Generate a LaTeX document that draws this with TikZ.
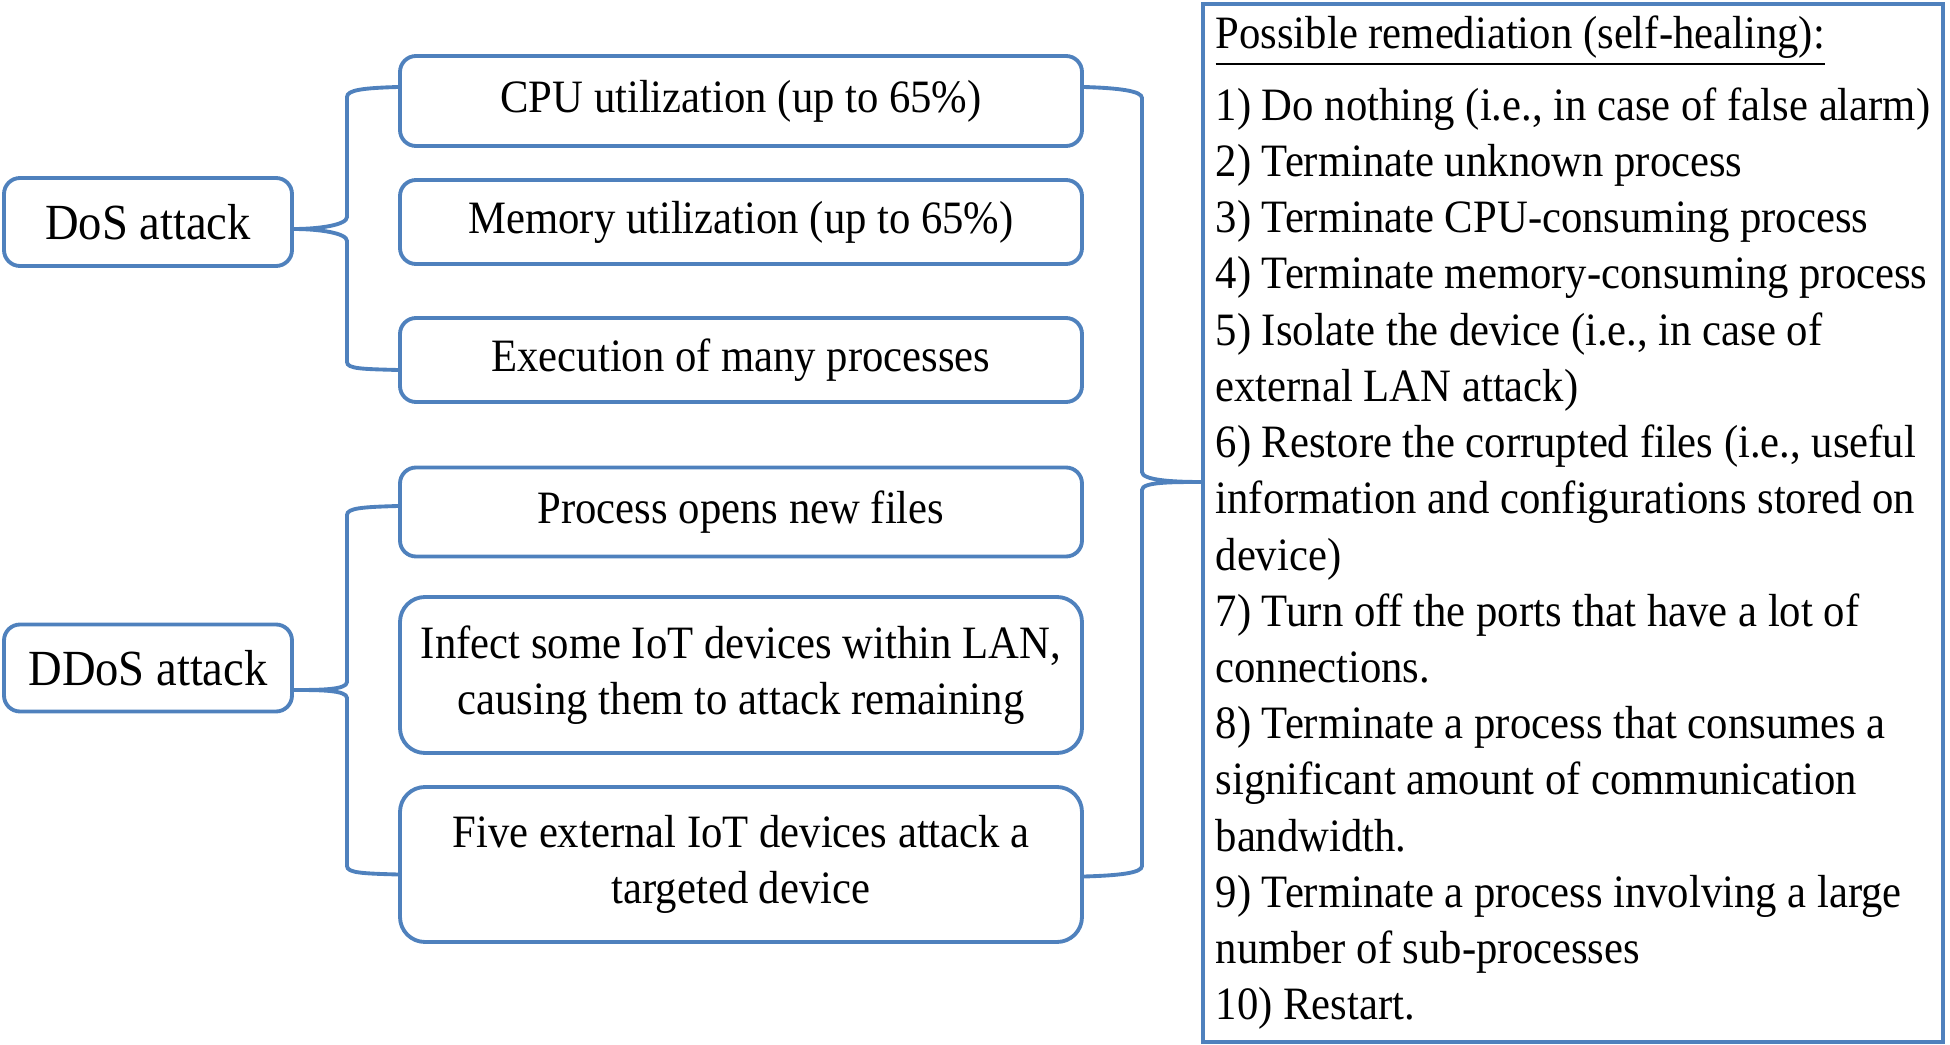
\documentclass[tikz,border=0pt]{standalone}
\usepackage{fontspec}
\setmainfont{Liberation Serif}[FakeStretch=0.92]
\usepackage{xcolor}
\usepackage{tikz}
\usetikzlibrary{calc}
\definecolor{outline}{HTML}{4F81BD}
\definecolor{ink}{HTML}{000000}
\tikzset{
  attbox/.style={draw=outline, line width=1.1pt, rounded corners=0.16cm, text=ink, minimum width=2.88cm, minimum height=0.88cm, font=\fontsize{14.4}{17.5}\selectfont},
  sympbox/.style={draw=outline, line width=1.1pt, rounded corners=0.16cm, text=ink, minimum width=6.82cm, align=center, font=\fontsize{13.2}{16}\selectfont},
  remedbox/.style={draw=outline, line width=1.1pt, text=ink, inner sep=0.06cm, minimum width=7.40cm, minimum height=10.38cm, align=left, font=\fontsize{13.2}{16}\selectfont},
  brace/.style={draw=outline, line width=1.1pt}
}

\begin{document}
\begin{tikzpicture}
  \useasboundingbox (0,0) rectangle (19.5,-10.45);

  % attack types
  \node[attbox] (dos) at (1.48,-2.22) {DoS attack};
  \node[attbox, minimum height=0.87cm] (ddos) at (1.48,-6.68) {DDoS attack};

  % symptoms
  \node[sympbox, minimum height=0.90cm] (cpu) at (7.41,-1.01) {CPU utilization (up to 65\%)};
  \node[sympbox, minimum height=0.84cm] (mem) at (7.41,-2.22) {Memory utilization (up to 65\%)};
  \node[sympbox, minimum height=0.84cm] (exec) at (7.41,-3.60) {Execution of many processes};
  \node[sympbox, minimum height=0.89cm] (proc) at (7.41,-5.12) {Process opens new files};
  \node[sympbox, minimum height=1.56cm, rounded corners=0.25cm] (infect) at (7.41,-6.75)
    {Infect some IoT devices within LAN,\\ causing them to attack remaining};
  \node[sympbox, minimum height=1.55cm, rounded corners=0.25cm] (five) at (7.41,-8.645)
    {Five external IoT devices attack a\\ targeted device};

  % remediation list
  \node[remedbox] (remed) at (15.73,-5.23) {%
    \underline{Possible remediation (self-healing):}\\[0.15cm]
    1) Do nothing (i.e., in case of false alarm)\\
    2) Terminate unknown process\\
    3) Terminate CPU-consuming process\\
    4) Terminate memory-consuming process\\
    5) Isolate the device (i.e., in case of\\
    external LAN attack)\\
    6) Restore the corrupted files (i.e., useful\\
    information and configurations stored on\\
    device)\\
    7) Turn off the ports that have a lot of\\
    connections.\\
    8) Terminate a process that consumes a\\
    significant amount of communication\\
    bandwidth.\\
    9) Terminate a process involving a large\\
    number of sub-processes\\
    10) Restart.};

  % brace tips
  \coordinate (dostip) at ($(dos.east)+(0,-0.07)$);
  \coordinate (ddostip) at ($(ddos.east)+(0,-0.22)$);
  \coordinate (remtip) at ($(remed.west)+(0,0.41)$);

  % DoS brace
  \draw[brace] ($(cpu.west)+(0,0.14)$) .. controls +(-0.35,-0.01) and +(0,0.07) .. (3.47,-0.97)
    -- (3.47,-2.17) .. controls +(0,-0.08) and +(0.25,0) .. (dostip)
    .. controls +(0.25,0) and +(0,0.08) .. (3.47,-2.41)
    -- (3.47,-3.62) .. controls +(0,-0.07) and +(-0.35,0.01) .. ($(exec.west)+(0,-0.10)$);

  % DDoS brace
  \draw[brace] ($(proc.west)+(0,0.06)$) .. controls +(-0.35,-0.01) and +(0,0.07) .. (3.47,-5.15)
    -- (3.47,-6.82) .. controls +(0,-0.08) and +(0.25,0) .. (ddostip)
    .. controls +(0.25,0) and +(0,0.08) .. (3.47,-6.98)
    -- (3.47,-8.66) .. controls +(0,-0.07) and +(-0.35,0.01) .. ($(five.west)+(0,-0.10)$);

  % remediation brace
  \draw[brace] ($(cpu.east)+(0,0.14)$) .. controls +(0.35,-0.01) and +(0,0.07) .. (11.42,-0.98)
    -- (11.42,-4.72) .. controls +(0,-0.08) and +(-0.3,0) .. (remtip)
    .. controls +(-0.3,0) and +(0,0.08) .. (11.42,-4.90)
    -- (11.42,-8.66) .. controls +(0,-0.07) and +(0.35,0.01) .. ($(five.east)+(0,-0.12)$);
\end{tikzpicture}
\end{document}
